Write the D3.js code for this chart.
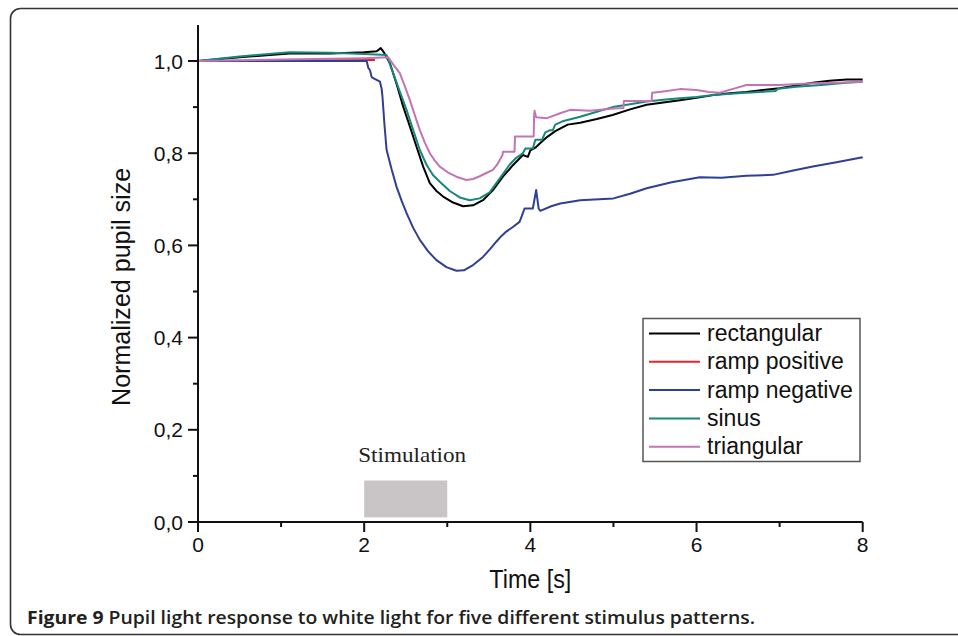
<!DOCTYPE html>
<html><head><meta charset="utf-8">
<script src="https://cdn.jsdelivr.net/npm/d3@7"></script>
<style>html,body{margin:0;padding:0;background:#fff;}svg{display:block;}</style>
</head><body>
<svg id="c" width="958" height="636"></svg>
<script>
// ---- data ----
const seriesNames = ["rectangular", "ramp positive", "ramp negative", "sinus", "triangular"];
const seriesColors = ["#000000", "#e3262a", "#2f3f94", "#17877d", "#c374b5"];

const rectT = [0, 0.5, 1.1, 1.6, 2.0, 2.15, 2.2, 2.24, 2.31, 2.39, 2.47, 2.55, 2.63, 2.71, 2.79, 2.87, 2.95, 3.07, 3.19, 3.31, 3.43, 3.55, 3.67, 3.79, 3.91, 3.97, 4.0, 4.06, 4.12, 4.2, 4.3, 4.45, 4.6, 4.8, 4.99, 5.2, 5.4, 5.6, 5.8, 6.0, 6.2, 6.4, 6.6, 6.8, 7.0, 7.2, 7.4, 7.6, 7.81, 8.0];
const rectV = [1.0, 1.008, 1.016, 1.016, 1.019, 1.021, 1.028, 1.018, 0.995, 0.95, 0.901, 0.858, 0.814, 0.771, 0.735, 0.718, 0.706, 0.693, 0.685, 0.687, 0.698, 0.72, 0.749, 0.774, 0.796, 0.792, 0.806, 0.812, 0.822, 0.835, 0.848, 0.862, 0.866, 0.874, 0.883, 0.895, 0.905, 0.91, 0.915, 0.92, 0.926, 0.93, 0.933, 0.937, 0.941, 0.947, 0.953, 0.957, 0.96, 0.96];

const rampPosT = [0, 1.0, 2.13];
const rampPosV = [1.0, 1.001, 1.002];

const rampNegT = [0, 2.03, 2.05, 2.07, 2.09, 2.12, 2.19, 2.21, 2.22, 2.245, 2.27, 2.33, 2.39, 2.45, 2.51, 2.59, 2.67, 2.77, 2.87, 2.99, 3.11, 3.2, 3.3, 3.43, 3.52, 3.59, 3.65, 3.71, 3.79, 3.87, 3.9, 3.93, 4.03, 4.07, 4.1, 4.12, 4.25, 4.36, 4.6, 5.0, 5.2, 5.4, 5.7, 6.04, 6.3, 6.6, 6.92, 7.15, 7.4, 7.7, 8.0];
const rampNegV = [1.0, 1.0, 0.985, 0.98, 0.965, 0.962, 0.955, 0.94, 0.923, 0.86, 0.807, 0.765, 0.727, 0.697, 0.67, 0.638, 0.612, 0.587, 0.568, 0.553, 0.545, 0.546, 0.556, 0.575, 0.593, 0.608, 0.62, 0.63, 0.64, 0.651, 0.665, 0.68, 0.68, 0.72, 0.68, 0.675, 0.685, 0.691, 0.698, 0.702, 0.712, 0.724, 0.737, 0.748, 0.747, 0.751, 0.753, 0.762, 0.771, 0.781, 0.791];

const sinT = [0, 0.5, 1.1, 1.6, 2.0, 2.27, 2.35, 2.43, 2.51, 2.59, 2.67, 2.75, 2.83, 2.91, 3.03, 3.15, 3.27, 3.39, 3.51, 3.63, 3.75, 3.83, 3.91, 3.94, 4.03, 4.06, 4.14, 4.18, 4.24, 4.27, 4.3, 4.4, 4.6, 4.8, 4.99, 5.2, 5.4, 5.6, 5.8, 6.0, 6.2, 6.5, 6.95, 6.98, 7.2, 7.5, 7.8, 8.0];
const sinV = [1.0, 1.01, 1.019, 1.018, 1.015, 1.013, 0.973, 0.933, 0.894, 0.85, 0.807, 0.775, 0.752, 0.738, 0.718, 0.704, 0.698, 0.702, 0.715, 0.745, 0.775, 0.79, 0.80, 0.81, 0.81, 0.829, 0.829, 0.845, 0.85, 0.85, 0.862, 0.87, 0.879, 0.89, 0.90, 0.906, 0.912, 0.916, 0.919, 0.922, 0.926, 0.93, 0.935, 0.94, 0.944, 0.948, 0.953, 0.955];

const triT = [0, 1.0, 2.0, 2.29, 2.36, 2.43, 2.49, 2.55, 2.61, 2.67, 2.73, 2.79, 2.85, 2.91, 3.01, 3.11, 3.23, 3.31, 3.39, 3.47, 3.55, 3.6, 3.665, 3.67, 3.81, 3.815, 4.04, 4.045, 4.05, 4.07, 4.2, 4.35, 4.48, 4.72, 5.0, 5.12, 5.125, 5.46, 5.465, 5.6, 5.8, 6.0, 6.15, 6.28, 6.45, 6.6, 7.0, 7.4, 7.7, 8.0];
const triV = [1.0, 1.003, 1.006, 1.008, 0.99, 0.973, 0.945, 0.915, 0.882, 0.85, 0.823, 0.80, 0.784, 0.771, 0.758, 0.749, 0.742, 0.744, 0.75, 0.757, 0.764, 0.775, 0.796, 0.803, 0.803, 0.836, 0.836, 0.879, 0.892, 0.878, 0.876, 0.886, 0.894, 0.892, 0.897, 0.898, 0.913, 0.913, 0.931, 0.934, 0.939, 0.937, 0.933, 0.931, 0.94, 0.948, 0.948, 0.952, 0.953, 0.955];

const xTicks = [0, 2, 4, 6, 8];
const xMinorTicks = [1, 3, 5, 7];
const yTicks = [0, 0.2, 0.4, 0.6, 0.8, 1.0];
const yMinorTicks = [0.1, 0.3, 0.5, 0.7, 0.9];
const yTickLabels = ["0,0", "0,2", "0,4", "0,6", "0,8", "1,0"];
const stim = {start: 2, end: 3, low: 0.01, high: 0.09, label: "Stimulation"};
const xTitle = "Time [s]";
const yTitle = "Normalized pupil size";
const captionBold = "Figure 9";
const captionRest = " Pupil light response to white light for five different stimulus patterns.";

// ---- drawing ----
const svg = d3.select("#c");
const x = d3.scaleLinear().domain([0, 8]).range([198, 862.7]);
const y = d3.scaleLinear().domain([0, 1]).range([522, 61]);
const yTop = 1.078;

// frame
svg.append("rect").attr("x", 10.5).attr("y", 8.5).attr("width", 1000).attr("height", 626)
  .attr("rx", 10).attr("fill", "none").attr("stroke", "#333").attr("stroke-width", 1.6);

// stimulation box
svg.append("rect").attr("x", x(stim.start)).attr("y", y(stim.high))
  .attr("width", x(stim.end) - x(stim.start)).attr("height", y(stim.low) - y(stim.high))
  .attr("fill", "#c9c4c5");
svg.append("text").attr("x", x(stim.start) - 6).attr("y", y(0.131))
  .attr("font-family", "Liberation Serif, Times New Roman, serif").attr("font-size", 22)
  .attr("textLength", 108).attr("lengthAdjust", "spacingAndGlyphs")
  .attr("fill", "#222").text(stim.label);

// series
const series = [
  {t: rectT, v: rectV},
  {t: rampPosT, v: rampPosV},
  {t: rampNegT, v: rampNegV},
  {t: sinT, v: sinV},
  {t: triT, v: triV}
];
const line = d3.line().x(d => x(d[0])).y(d => y(d[1]));
const order = [1, 0, 2, 3, 4];
order.forEach(i => {
  const s = series[i];
  svg.append("path").datum(s.t.map((t, k) => [t, s.v[k]]))
    .attr("d", line).attr("fill", "none").attr("stroke", seriesColors[i])
    .attr("stroke-width", 2).attr("stroke-linejoin", "round");
});

// axes
const axisColor = "#111";
const gx = svg.append("g").attr("transform", `translate(0,${y(0)})`);
gx.append("line").attr("x1", x(0)).attr("x2", x(8)).attr("stroke", axisColor).attr("stroke-width", 2);
gx.selectAll(".mj").data(xTicks).join("line").attr("x1", d => x(d)).attr("x2", d => x(d))
  .attr("y1", 0).attr("y2", 10).attr("stroke", axisColor).attr("stroke-width", 2);
gx.selectAll(".mn").data(xMinorTicks).join("line").attr("class", "mn").attr("x1", d => x(d)).attr("x2", d => x(d))
  .attr("y1", 0).attr("y2", 5).attr("stroke", axisColor).attr("stroke-width", 2);
gx.selectAll("text").data(xTicks).join("text").attr("x", d => x(d)).attr("y", 30)
  .attr("text-anchor", "middle").attr("font-family", "Liberation Sans, Arial, sans-serif")
  .attr("font-size", 21).attr("fill", "#111").text(d => d);

const gy = svg.append("g").attr("transform", `translate(${x(0)},0)`);
gy.append("line").attr("y1", y(0)).attr("y2", y(yTop)).attr("stroke", axisColor).attr("stroke-width", 2);
gy.selectAll(".mj").data(yTicks).join("line").attr("y1", d => y(d)).attr("y2", d => y(d))
  .attr("x1", 0).attr("x2", -10).attr("stroke", axisColor).attr("stroke-width", 2);
gy.selectAll(".mn").data(yMinorTicks).join("line").attr("class", "mn").attr("y1", d => y(d)).attr("y2", d => y(d))
  .attr("x1", 0).attr("x2", -5).attr("stroke", axisColor).attr("stroke-width", 2);
gy.selectAll("text").data(yTicks).join("text").attr("x", -15).attr("y", d => y(d) + 7.5)
  .attr("text-anchor", "end").attr("font-family", "Liberation Sans, Arial, sans-serif")
  .attr("font-size", 21).attr("fill", "#111").text((d, i) => yTickLabels[i]);

// titles
svg.append("text").attr("x", (x(0) + x(8)) / 2).attr("y", 588).attr("text-anchor", "middle")
  .attr("font-family", "Liberation Sans, Arial, sans-serif").attr("font-size", 25)
  .attr("textLength", 82).attr("lengthAdjust", "spacingAndGlyphs")
  .attr("fill", "#111").text(xTitle);
svg.append("text").attr("transform", `translate(130,${(y(0.25) + y(0.77)) / 2}) rotate(-90)`)
  .attr("text-anchor", "middle").attr("font-family", "Liberation Sans, Arial, sans-serif")
  .attr("font-size", 25).attr("textLength", 238).attr("lengthAdjust", "spacingAndGlyphs")
  .attr("fill", "#111").text(yTitle);

// legend
const lg = svg.append("g");
lg.append("rect").attr("x", 643).attr("y", 318.5).attr("width", 217).attr("height", 143)
  .attr("fill", "#fff").attr("stroke", "#555").attr("stroke-width", 1.5);
seriesNames.forEach((n, i) => {
  const yy = 333.5 + i * 28.3;
  lg.append("line").attr("x1", 649).attr("x2", 700).attr("y1", yy).attr("y2", yy)
    .attr("stroke", seriesColors[i]).attr("stroke-width", 2);
  lg.append("text").attr("x", 707).attr("y", yy + 7.5).attr("font-family", "Liberation Sans, Arial, sans-serif")
    .attr("font-size", 23).attr("fill", "#111").text(n);
});

// caption
const cap = svg.append("text").attr("x", 27).attr("y", 624).attr("font-family", "Open Sans, Noto Sans, sans-serif")
  .attr("font-size", 18.5).attr("fill", "#231f20").attr("textLength", 728).attr("lengthAdjust", "spacingAndGlyphs");
cap.append("tspan").attr("font-weight", 700).text(captionBold);
cap.append("tspan").attr("font-weight", 600).text(captionRest);
</script>
</body></html>
